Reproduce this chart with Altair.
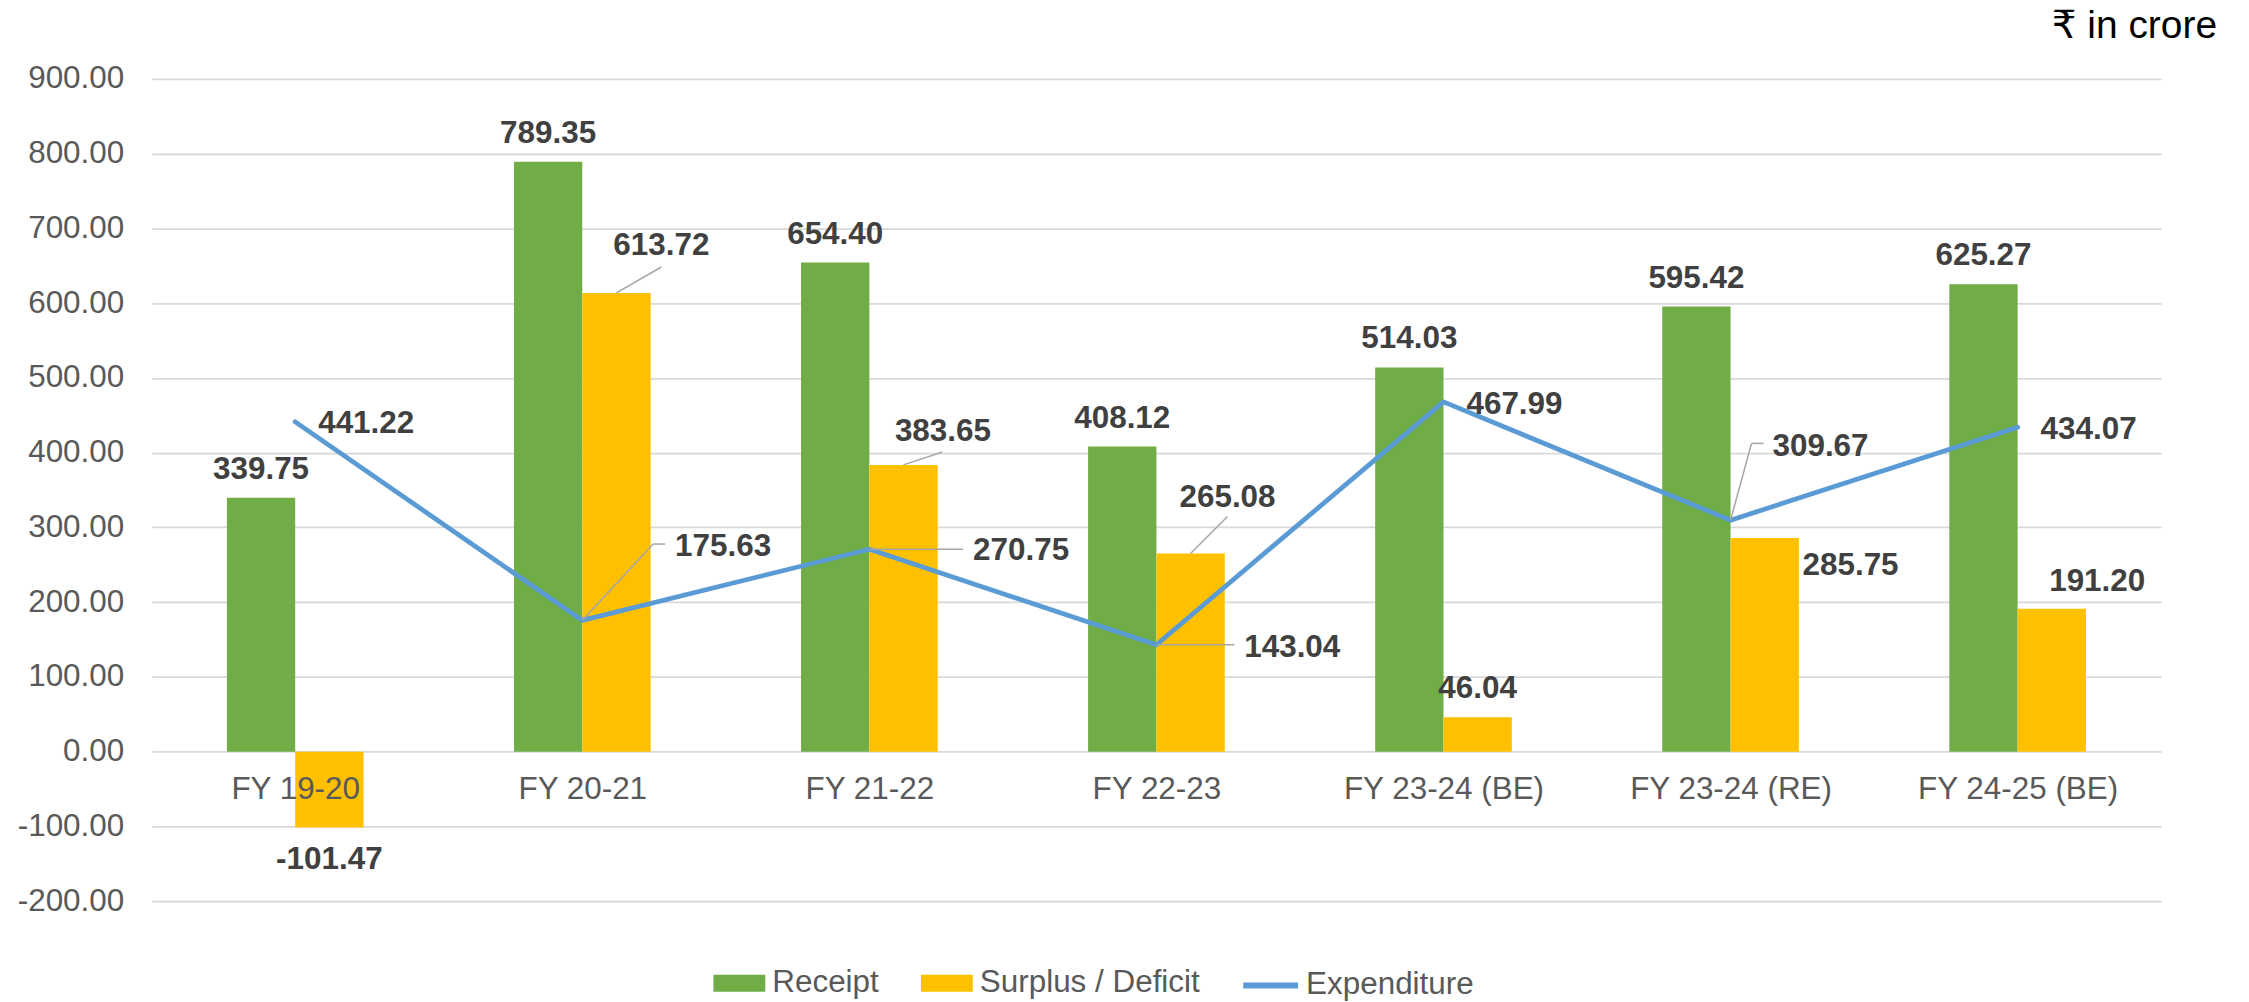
import json
import altair as alt
import pandas as pd

# ---------------- data ----------------
categories = ["FY 19-20", "FY 20-21", "FY 21-22", "FY 22-23",
              "FY 23-24 (BE)", "FY 23-24 (RE)", "FY 24-25 (BE)"]
receipt = [339.75, 789.35, 654.40, 408.12, 514.03, 595.42, 625.27]
surplus = [-101.47, 613.72, 383.65, 265.08, 46.04, 285.75, 191.20]
expenditure = [441.22, 175.63, 270.75, 143.04, 467.99, 309.67, 434.07]
y_ticks = list(range(-200, 1000, 100))
series_names = ["Receipt", "Surplus / Deficit", "Expenditure"]

# ---------------- layout / style ----------------
W, H = 2014, 824
Y_MIN, Y_MAX = -200, 900
N = len(categories)
PX_X = W / N
PX_Y = H / (Y_MAX - Y_MIN)
BAR = 0.238  # bar width as a fraction of a category step

FONT = "Liberation Sans, Arial, DejaVu Sans"
LABEL_COLOR = "#404040"
AXIS_COLOR = "#595959"
GREEN, YELLOW, BLUE = "#70AD47", "#FFC000", "#5B9BD5"
LEADER = "#A6A6A6"
FS = 31.5

# label placement: pixel offsets (dx, dy) from the bar end / line point
receipt_lbl_dy = -19
surplus_lbl = [(0, 42), (45, -38), (39.5, -23.6), (37, -46.5), (0, -19.5), (86, 37), (45.5, -18)]
exp_lbl = [(23, 11.5), (93, -64.5), (104, 11), (88, 12), (23, 12.5), (42, -64), (23, 12)]
leaders = [
    ("s", 1, [(0, 0), (45, -26)]),
    ("s", 2, [(0, 0), (39, -13)]),
    ("s", 3, [(0, 0), (37, -37)]),
    ("e", 1, [(0, 0), (71, -76.5), (83, -76.5)]),
    ("e", 2, [(0, 0), (94, 0)]),
    ("e", 3, [(0, 0), (78, 0)]),
    ("e", 5, [(0, 0), (21, -77), (33, -77)]),
]


def ux(px):
    return px / PX_X


def uy(px):
    return -px / PX_Y


idx = list(range(N))

bars_df = pd.DataFrame({
    "series": [series_names[0]] * N + [series_names[1]] * N,
    "x0": [i - BAR for i in idx] + [float(i) for i in idx],
    "x1": [float(i) for i in idx] + [i + BAR for i in idx],
    "value": receipt + surplus,
})

line_df = pd.DataFrame({
    "series": [series_names[2]] * N,
    "idx": idx,
    "value": expenditure,
})

center_rows = []
for i, v in enumerate(receipt):
    center_rows.append({"x": i - BAR / 2, "y": v + uy(receipt_lbl_dy), "label": f"{v:.2f}"})
for i, v in enumerate(surplus):
    dx, dy = surplus_lbl[i]
    center_rows.append({"x": i + BAR / 2 + ux(dx), "y": v + uy(dy), "label": f"{v:.2f}"})
center_df = pd.DataFrame(center_rows)

left_rows = []
for i, v in enumerate(expenditure):
    dx, dy = exp_lbl[i]
    left_rows.append({"x": i + ux(dx), "y": v + uy(dy), "label": f"{v:.2f}"})
left_df = pd.DataFrame(left_rows)

seg_rows = []
for kind, i, pts in leaders:
    if kind == "s":
        ax, ay = i + BAR / 2, surplus[i]
    else:
        ax, ay = float(i), expenditure[i]
    for (p1, p2) in zip(pts[:-1], pts[1:]):
        seg_rows.append({
            "x": ax + ux(p1[0]), "y": ay + uy(p1[1]),
            "x2": ax + ux(p2[0]), "y2": ay + uy(p2[1]),
        })
seg_df = pd.DataFrame(seg_rows)

# ---------------- scales / axes ----------------
xscale = alt.Scale(domain=[-0.5, N - 0.5], nice=False, zero=False)
yscale = alt.Scale(domain=[Y_MIN, Y_MAX], nice=False, zero=False)

xaxis = alt.Axis(
    values=idx,
    labelExpr=json.dumps(categories).replace('"', "'") + "[datum.value]",
    title=None, grid=False, ticks=False, domain=False,
    labelFont=FONT, labelFontSize=FS, labelColor=AXIS_COLOR, labelLimit=600,
    labelPadding=22, offset=-(0 - Y_MIN) * PX_Y,
    labelFlush=False, labelOverlap=False, zindex=1,
)
yaxis = alt.Axis(
    values=y_ticks,
    labelExpr="replace(format(datum.value, '.2f'), '\u2212', '-')",
    title=None, grid=True, gridColor="#D9D9D9", gridWidth=1.7,
    ticks=False, domain=False,
    labelFont=FONT, labelFontSize=FS, labelColor=AXIS_COLOR, labelLimit=600,
    labelPadding=28, labelFlush=False, labelOverlap=False, zindex=0,
)

fill_legend = alt.Legend(
    orient="none", legendX=563, legendY=880, direction="horizontal",
    title=None, symbolType="M-1,-0.33H1V0.33H-1Z", symbolSize=2704,
    symbolStrokeWidth=0, symbolOpacity=1, labelLimit=600,
    labelFont=FONT, labelFontSize=FS, labelColor=AXIS_COLOR,
    labelOffset=7, columnPadding=42, padding=0,
)
stroke_legend = alt.Legend(
    orient="none", legendX=1091, legendY=878, direction="horizontal",
    title=None, symbolType="stroke", symbolSize=3025, symbolStrokeWidth=6,
    labelFont=FONT, labelFontSize=FS, labelColor=AXIS_COLOR, labelLimit=600,
    labelOffset=5, padding=0,
)

# ---------------- layers ----------------
bars = alt.Chart(bars_df).mark_bar().encode(
    x=alt.X("x0:Q", scale=xscale, axis=xaxis),
    x2="x1:Q",
    y=alt.Y("value:Q", scale=yscale, axis=yaxis),
    y2=alt.datum(0),
    fill=alt.Fill("series:N",
                  scale=alt.Scale(domain=series_names[:2], range=[GREEN, YELLOW]),
                  legend=fill_legend),
)

line = alt.Chart(line_df).mark_line(strokeWidth=4.8, strokeCap="round", strokeJoin="round").encode(
    x=alt.X("idx:Q", scale=xscale, axis=xaxis),
    y=alt.Y("value:Q", scale=yscale, axis=yaxis),
    stroke=alt.Stroke("series:N",
                      scale=alt.Scale(domain=[series_names[2]], range=[BLUE]),
                      legend=stroke_legend),
)

rules = alt.Chart(seg_df).mark_rule(color=LEADER, strokeWidth=1.5).encode(
    x=alt.X("x:Q", scale=xscale, axis=xaxis),
    x2="x2:Q",
    y=alt.Y("y:Q", scale=yscale, axis=yaxis),
    y2="y2:Q",
)

text_center = alt.Chart(center_df).mark_text(
    align="center", baseline="alphabetic", font=FONT, fontSize=FS,
    fontWeight="bold", color=LABEL_COLOR,
).encode(
    x=alt.X("x:Q", scale=xscale, axis=xaxis),
    y=alt.Y("y:Q", scale=yscale, axis=yaxis),
    text="label:N",
)

text_left = alt.Chart(left_df).mark_text(
    align="left", baseline="alphabetic", font=FONT, fontSize=FS,
    fontWeight="bold", color=LABEL_COLOR,
).encode(
    x=alt.X("x:Q", scale=xscale, axis=xaxis),
    y=alt.Y("y:Q", scale=yscale, axis=yaxis),
    text="label:N",
)

chart = alt.layer(bars, line, rules, text_center, text_left).properties(
    width=W, height=H,
    title=alt.TitleParams("₹ in crore", anchor="end", frame="group", fontSize=39,
                          fontWeight="normal", color="#000000", font=FONT, dx=56, dy=-13),
    autosize=alt.AutoSizeParams(type="none"),
    padding={"left": 144, "top": 70, "right": 80, "bottom": 108},
    background="white",
).configure_view(stroke=None)

chart.save("out.html", embed_options={"renderer": "svg", "actions": False})
